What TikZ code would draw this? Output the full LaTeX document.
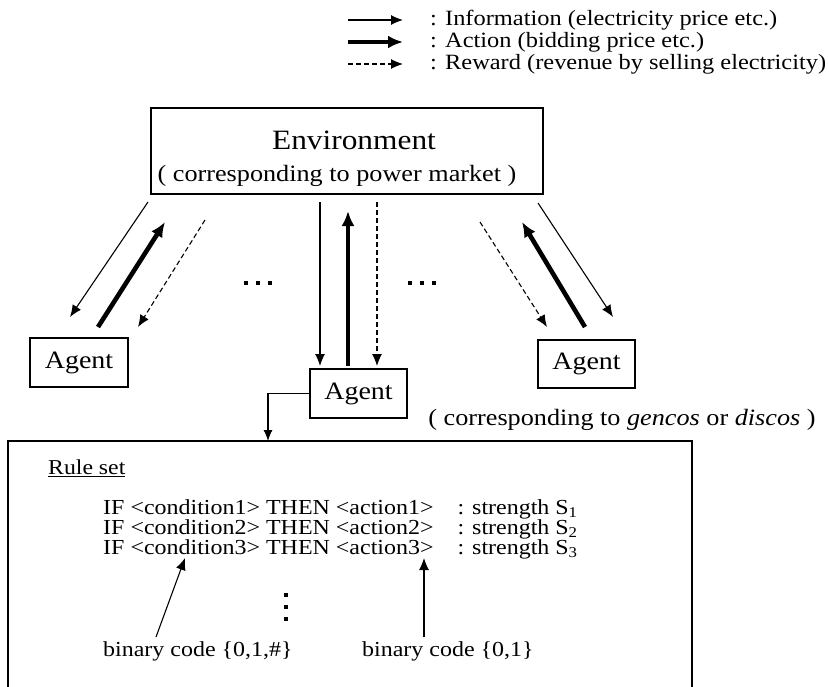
\documentclass[tikz,border=0pt]{standalone}
\usepackage{fontspec}
\setmainfont[FakeStretch=1.12]{Liberation Serif}
\usetikzlibrary{arrows.meta}
\begin{document}
\begin{tikzpicture}[x=1pt,y=-1pt,
  info/.style={line width=1.1pt,-{Latex[length=12pt,width=10pt]}},
  act/.style={line width=4.6pt,-{Latex[length=15pt,width=13pt]}},
  rew/.style={line width=1.1pt,dash pattern=on 5pt off 3pt,-{Latex[length=12pt,width=10pt]}},
  box/.style={draw,line width=1.1pt,inner sep=0pt},
  legtxt/.style={font=\fontsize{21.8}{23}\selectfont,anchor=west,inner sep=0pt},
  agtxt/.style={font=\fontsize{25}{27}\selectfont},
  subtxt/.style={font=\fontsize{23.4}{25}\selectfont},
  ruletxt/.style={font=\fontsize{21.4}{23}\selectfont,anchor=west,inner sep=0pt},
  dot/.style={fill=black,minimum size=4pt,inner sep=0pt}
  ]
\useasboundingbox (0,0) rectangle (829,687);
% legend
\coordinate (la1) at (348,20); \coordinate (lb1) at (403,20);
\coordinate (la2) at (348,42); \coordinate (lb2) at (403,42);
\coordinate (la3) at (348,64); \coordinate (lb3) at (403,64);
\draw[info] (la1) -- (lb1);
\draw[act] (la2) -- (lb2);
\draw[rew] (la3) -- (lb3);
\node[legtxt] (t1) at (430,20) {: Information (electricity price etc.)};
\node[legtxt] (t2) at (430,42) {: Action (bidding price etc.)};
\node[legtxt] (t3) at (430,64) {: Reward (revenue by selling electricity)};
% environment
\node[box,minimum width=392pt,minimum height=86pt] (env) at (347,151) {};
\node[font=\fontsize{28}{30}\selectfont] (envt) at (354,140) {Environment};
\node[subtxt] (envs) at (337,176) {( corresponding to power market )};
% agents
\node[box,agtxt,minimum width=98pt,minimum height=49pt] (agl) at (79,362.5) {Agent};
\node[box,agtxt,minimum width=97pt,minimum height=49pt] (agm) at (358.5,393.5) {Agent};
\node[box,agtxt,minimum width=97pt,minimum height=48pt] (agr) at (586.5,364) {Agent};
\node[subtxt] (corr) at (622,420) {( corresponding to \textit{gencos} or \textit{discos} )};
% left arrows
\coordinate (a1) at (148,202); \coordinate (b1) at (70,317);
\coordinate (a2) at (98,327); \coordinate (b2) at (165,222);
\coordinate (a3) at (205,220); \coordinate (b3) at (138,327);
\draw[info] (a1) -- (b1);
\draw[act] (a2) -- (b2);
\draw[rew] (a3) -- (b3);
% middle arrows
\coordinate (m1) at (320,202); \coordinate (n1) at (320,366);
\coordinate (m2) at (348,366); \coordinate (n2) at (348,211);
\coordinate (m3) at (377,202); \coordinate (n3) at (377,366);
\draw[info] (m1) -- (n1);
\draw[act] (m2) -- (n2);
\draw[rew] (m3) -- (n3);
% right arrows
\coordinate (r3) at (480,222); \coordinate (s3) at (547,327);
\coordinate (r2) at (585,327); \coordinate (s2) at (522,222);
\coordinate (r1) at (538,203); \coordinate (s1) at (613,317);
\draw[rew] (r3) -- (s3);
\draw[act] (r2) -- (s2);
\draw[info] (r1) -- (s1);
% dots
\foreach \x/\n in {246/d1,258/d2,270/d3,410/d4,422/d5,434/d6}
  \node[dot] (\n) at (\x,283) {};
% rule set box (its lower edge lies below the picture)
\node[box,minimum width=684pt,minimum height=250pt] (rule) at (350,566) {};
\coordinate (rc) at (268,441);
\draw[line width=1.1pt,-{Latex[length=11pt,width=9pt]}] (agm.west) -| (rc);
\node[font=\fontsize{21.2}{23}\selectfont,anchor=west,inner sep=0pt] (rs) at (48,468) {\underline{Rule set}};
\node[ruletxt] (r1t) at (103,509) {IF <condition1> THEN <action1>\hspace{24pt}: strength S\textsubscript{1}};
\node[ruletxt] (r2t) at (103,529) {IF <condition2> THEN <action2>\hspace{24pt}: strength S\textsubscript{2}};
\node[ruletxt] (r3t) at (103,549) {IF <condition3> THEN <action3>\hspace{24pt}: strength S\textsubscript{3}};
\foreach \y/\n in {595/v1,607/v2,619/v3}
  \node[dot] (\n) at (286,\y) {};
\node[ruletxt] (bc1) at (103,651) {binary code \{0,1,\#\}};
\node[ruletxt] (bc2) at (362,651) {binary code \{0,1\}};
\coordinate (c1) at (156,637); \coordinate (c2) at (185,558);
\coordinate (c3) at (424,637); \coordinate (c4) at (424,558);
\draw[info] (c1) -- (c2);
\draw[info] (c3) -- (c4);
\end{tikzpicture}
\end{document}
